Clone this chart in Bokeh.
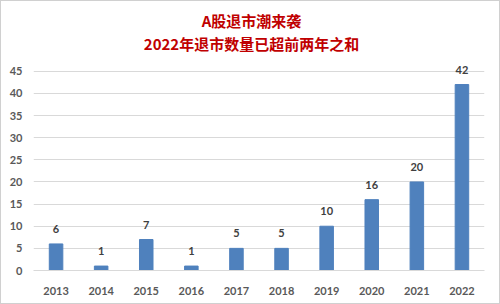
from bokeh.plotting import figure
from bokeh.models import Range1d, FactorRange, Label, ColumnDataSource, FixedTicker
from bokeh.embed import file_html
from bokeh.resources import INLINE
from bokeh.core.properties import value

years = ["2013", "2014", "2015", "2016", "2017", "2018", "2019", "2020", "2021", "2022"]
counts = [6, 1, 7, 1, 5, 5, 10, 16, 20, 42]
yticks = [0, 5, 10, 15, 20, 25, 30, 35, 40, 45]
title1 = "A股退市潮来袭"
title2 = "2022年退市数量已超前两年之和"

src = ColumnDataSource(dict(x=years, y=counts, t=[str(c) for c in counts]))

# frame spans the whole height above the axis; ticks stop at 45
p = figure(width=500, height=304, x_range=FactorRange(*years, range_padding=0),
           y_range=Range1d(0, 60.3), output_backend="svg", toolbar_location=None,
           min_border_left=32, min_border_right=17, min_border_top=2, min_border_bottom=35,
           styles={"border": "1px solid #d0d0d0", "box-sizing": "border-box"})
p.outline_line_color = None
p.background_fill_color = "white"
p.border_fill_color = "white"

p.vbar(x="x", top="y", width=0.3, source=src, color="#4f81bd")
p.text(x="x", y="y", text="t", source=src, text_align="center", text_baseline="middle",
       y_offset=-15, text_font=value("Lato"), text_font_style="bold",
       text_font_size="11px", text_color="#404040")

p.yaxis.ticker = FixedTicker(ticks=yticks)
for ax in (p.xaxis, p.yaxis):
    ax.major_tick_line_color = None
    ax.minor_tick_line_color = None
    ax.major_label_text_font = "Lato"
    ax.major_label_text_font_style = "bold"
    ax.major_label_text_font_size = "11px"
    ax.major_label_text_color = "#595959"
p.yaxis.axis_line_color = None
p.yaxis.major_label_standoff = 5
p.xaxis.axis_line_color = "#d9d9d9"
p.xaxis.major_label_standoff = 10
p.xgrid.grid_line_color = None
p.ygrid.grid_line_color = "#d9d9d9"

for txt, yy in ((title1, 250), (title2, 227)):
    p.add_layout(Label(x=218, y=yy, x_units="screen", y_units="screen", text=txt,
                       text_align="center", text_baseline="middle",
                       text_font="Noto Sans CJK SC", text_font_style="bold",
                       text_font_size="15px", text_color="#c00000"))

open("out.html", "w").write(file_html(p, INLINE))
